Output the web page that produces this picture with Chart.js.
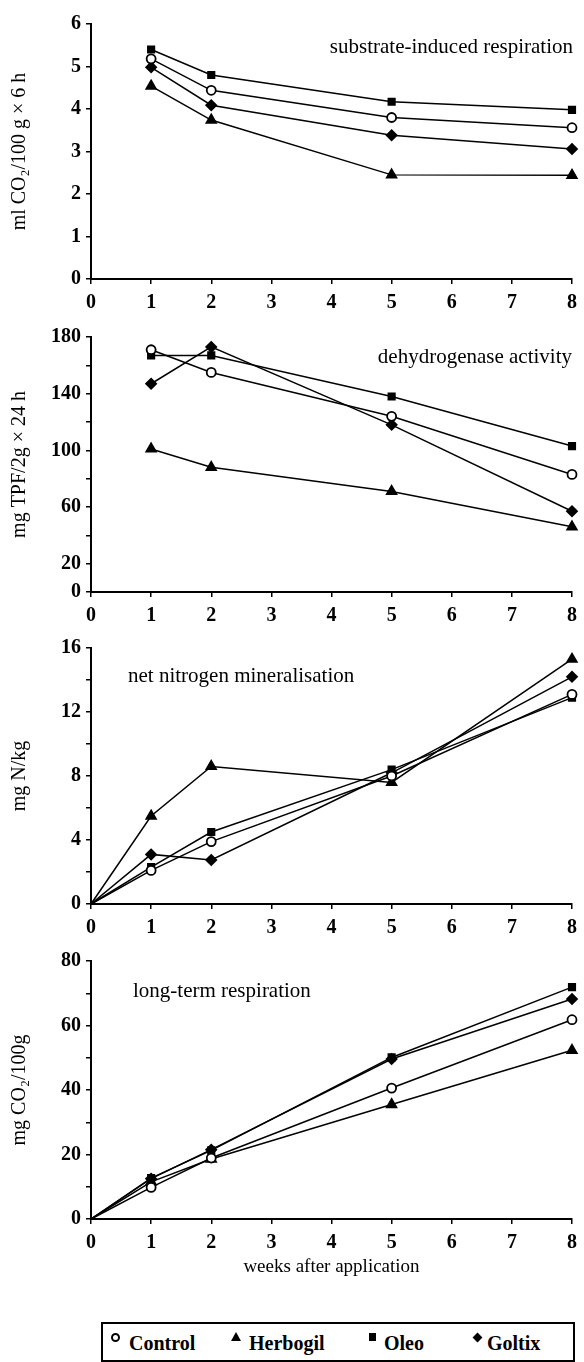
<!DOCTYPE html>
<html>
<head>
<meta charset="utf-8">
<script src="https://cdn.jsdelivr.net/npm/chart.js@4.4.1/dist/chart.umd.min.js"></script>
<style>
  html, body { margin: 0; padding: 0; background: #fff; }
  body { width: 584px; height: 1362px; position: relative; overflow: hidden;
         font-family: "Liberation Serif", "Times New Roman", serif; }
  canvas { position: absolute; left: 0; }
  #legend { position: absolute; left: 101px; top: 1322px; width: 470px; height: 36px;
            border: 2px solid #000; }
  #legend .txt { position: absolute; top: 0; line-height: 38px; font-weight: bold; font-size: 20px; }
  #legend .mk { position: absolute; background: #000; }
</style>
</head>
<body>
<canvas id="p1" width="584" height="312"></canvas>
<canvas id="p2" width="584" height="312"></canvas>
<canvas id="p3" width="584" height="313"></canvas>
<canvas id="p4" width="584" height="339"></canvas>
<div id="legend"></div>

<script>
'use strict';

/* ── Data ─────────────────────────────────────────────────────────── */
const WEEKS_A = [1, 2, 5, 8];
const WEEKS_B = [0, 1, 2, 5, 8];
const SERIES  = ['Control', 'Herbogil', 'Oleo', 'Goltix'];

// substrate-induced respiration (ml CO2/100 g x 6 h)
const sirControl  = [5.18, 4.44, 3.80, 3.56];
const sirHerbogil = [4.54, 3.74, 2.45, 2.44];
const sirOleo     = [5.40, 4.80, 4.17, 3.98];
const sirGoltix   = [4.98, 4.09, 3.38, 3.06];

// dehydrogenase activity (mg TPF/2g x 24 h)
const dhaControl  = [171, 155, 124, 83];
const dhaHerbogil = [101, 88, 71, 46];
const dhaOleo     = [167, 167, 138, 103];
const dhaGoltix   = [147, 173, 118, 57];

// net nitrogen mineralisation (mg N/kg)
const nminControl  = [0, 2.1, 3.9, 8.0, 13.1];
const nminHerbogil = [0, 5.5, 8.6, 7.6, 15.3];
const nminOleo     = [0, 2.3, 4.5, 8.4, 12.9];
const nminGoltix   = [0, 3.1, 2.75, 8.2, 14.2];

// long-term respiration (mg CO2/100g)
const ltrControl  = [0, 9.8, 18.9, 40.6, 61.8];
const ltrHerbogil = [0, 11.5, 18.6, 35.5, 52.3];
const ltrOleo     = [0, 12.7, 21.3, 50.1, 71.9];
const ltrGoltix   = [0, 12.5, 21.5, 49.6, 68.2];

const X_TICKS = [0, 1, 2, 3, 4, 5, 6, 7, 8];

/* ── Styles ───────────────────────────────────────────────────────── */
const FONT = '"Liberation Serif", "Times New Roman", serif';
const MARKERS = {
  Control:  { pointStyle: 'circle',   radius: 4.5, bg: '#fff' },
  Herbogil: { pointStyle: 'triangle', radius: 5.5, bg: '#000' },
  Oleo:     { pointStyle: 'rect',     radius: 4.5, bg: '#000' },
  Goltix:   { pointStyle: 'rectRot',  radius: 5,   bg: '#000' },
};

function makeDatasets(weeks, values) {
  return SERIES.map((name, i) => {
    const m = MARKERS[name];
    return {
      label: name,
      data: weeks.map((w, j) => ({ x: w, y: values[i][j] })),
      borderColor: '#000',
      borderWidth: 1.5,
      pointStyle: m.pointStyle,
      // no marker at the common origin (week 0)
      pointRadius: ctx => (ctx.raw && ctx.raw.x === 0) ? 0 : m.radius,
      pointBackgroundColor: m.bg,
      pointBorderColor: '#000',
      pointBorderWidth: 1.8,
      tension: 0,
      clip: false,
    };
  });
}

/* panel title drawn inside the plot area */
const panelTitle = {
  id: 'panelTitle',
  afterDraw(chart, args, o) {
    if (!o.text) return;
    const { ctx, chartArea } = chart;
    ctx.save();
    ctx.font = '21px ' + FONT;
    ctx.fillStyle = '#000';
    ctx.textBaseline = 'middle';
    ctx.textAlign = o.align;
    const x = o.align === 'right' ? chartArea.right + o.dx : chartArea.left + o.dx;
    ctx.fillText(o.text, x, chartArea.top + o.dy);
    ctx.restore();
  },
};

function makePanel(id, top, cfg) {
  const canvas = document.getElementById(id);
  canvas.style.top = top + 'px';
  return new Chart(canvas, {
    type: 'line',
    data: { datasets: makeDatasets(cfg.weeks, cfg.values) },
    plugins: [panelTitle],
    options: {
      responsive: false,
      animation: false,
      devicePixelRatio: 1,
      layout: { padding: { top: 13, right: 9, left: 0, bottom: 0 } },
      plugins: {
        legend: { display: false },
        tooltip: { enabled: false },
        panelTitle: cfg.title,
      },
      scales: {
        x: {
          type: 'linear',
          min: 0, max: 8,
          afterBuildTicks: s => { s.ticks = X_TICKS.map(v => ({ value: v })); },
          afterFit: s => { s.height = cfg.xHeight; },
          grid: { drawOnChartArea: false, drawTicks: true, tickLength: 5, color: '#000', lineWidth: 1.5 },
          border: { display: true, color: '#000', width: 2 },
          ticks: { color: '#000', padding: 7, font: { family: FONT, size: 20, weight: 'bold' } },
          title: cfg.xTitle
            ? { display: true, text: cfg.xTitle, color: '#000', padding: { top: 0, bottom: 5 },
                font: { family: FONT, size: 19 } }
            : { display: false },
        },
        y: {
          min: 0, max: cfg.yMax,
          afterBuildTicks: s => {
            const t = [];
            for (let v = 0; v <= cfg.yMax + 1e-9; v += cfg.yStep) t.push({ value: v });
            s.ticks = t;
          },
          afterFit: s => { s.width = 91; },
          grid: { drawOnChartArea: false, drawTicks: true, tickLength: 5, color: '#000', lineWidth: 1.5 },
          border: { display: true, color: '#000', width: 2 },
          ticks: {
            color: '#000', padding: 5,
            font: { family: FONT, size: 20, weight: 'bold' },
            callback: v => cfg.yLabels.includes(v) ? String(v) : '',
          },
          title: { display: true, text: cfg.yTitle, color: '#000', padding: { top: 8, bottom: 0 },
                   font: { family: FONT, size: 20 } },
        },
      },
    },
  });
}

makePanel('p1', 7, {
  weeks: WEEKS_A,
  values: [sirControl, sirHerbogil, sirOleo, sirGoltix],
  yMax: 6, yStep: 1, yLabels: [0, 1, 2, 3, 4, 5, 6],
  yTitle: 'ml CO\u2082/100 g \u00d7 6 h',
  xHeight: 40,
  title: { text: 'substrate-induced respiration', align: 'right', dx: 1, dy: 23 },
});

makePanel('p2', 320, {
  weeks: WEEKS_A,
  values: [dhaControl, dhaHerbogil, dhaOleo, dhaGoltix],
  yMax: 180, yStep: 20, yLabels: [0, 20, 60, 100, 140, 180],
  yTitle: 'mg TPF/2g \u00d7 24 h',
  xHeight: 40,
  title: { text: 'dehydrogenase activity', align: 'right', dx: 0, dy: 20 },
});

makePanel('p3', 631, {
  weeks: WEEKS_B,
  values: [nminControl, nminHerbogil, nminOleo, nminGoltix],
  yMax: 16, yStep: 2, yLabels: [0, 4, 8, 12, 16],
  yTitle: 'mg N/kg',
  xHeight: 40,
  title: { text: 'net nitrogen mineralisation', align: 'left', dx: 37, dy: 28 },
});

makePanel('p4', 944, {
  weeks: WEEKS_B,
  values: [ltrControl, ltrHerbogil, ltrOleo, ltrGoltix],
  yMax: 80, yStep: 10, yLabels: [0, 20, 40, 60, 80],
  yTitle: 'mg CO\u2082/100g',
  xHeight: 64,
  xTitle: 'weeks after application',
  title: { text: 'long-term respiration', align: 'left', dx: 42, dy: 30 },
});

/* ── Legend (boxed, below the last panel) ─────────────────────────── */
(function buildLegend() {
  const box = document.getElementById('legend');
  const markerX = [8, 128, 266, 371];
  const textX   = [26, 146, 281, 384];
  const shapes = {
    Control:  'left:{x}px;top:9px;width:5px;height:5px;background:#fff;border:2px solid #000;border-radius:50%;',
    Herbogil: 'left:{x}px;top:8px;width:0;height:0;background:none;border-left:5px solid transparent;border-right:5px solid transparent;border-bottom:9px solid #000;',
    Oleo:     'left:{x}px;top:9px;width:7px;height:8px;',
    Goltix:   'left:{x}px;top:10px;width:7px;height:7px;transform:rotate(45deg);',
  };
  SERIES.forEach((name, i) => {
    const mk = document.createElement('span');
    mk.className = 'mk';
    mk.style.cssText = shapes[name].replace('{x}', markerX[i]);
    box.appendChild(mk);
    const t = document.createElement('span');
    t.className = 'txt';
    t.style.left = textX[i] + 'px';
    t.textContent = name;
    box.appendChild(t);
  });
})();
</script>
</body>
</html>
